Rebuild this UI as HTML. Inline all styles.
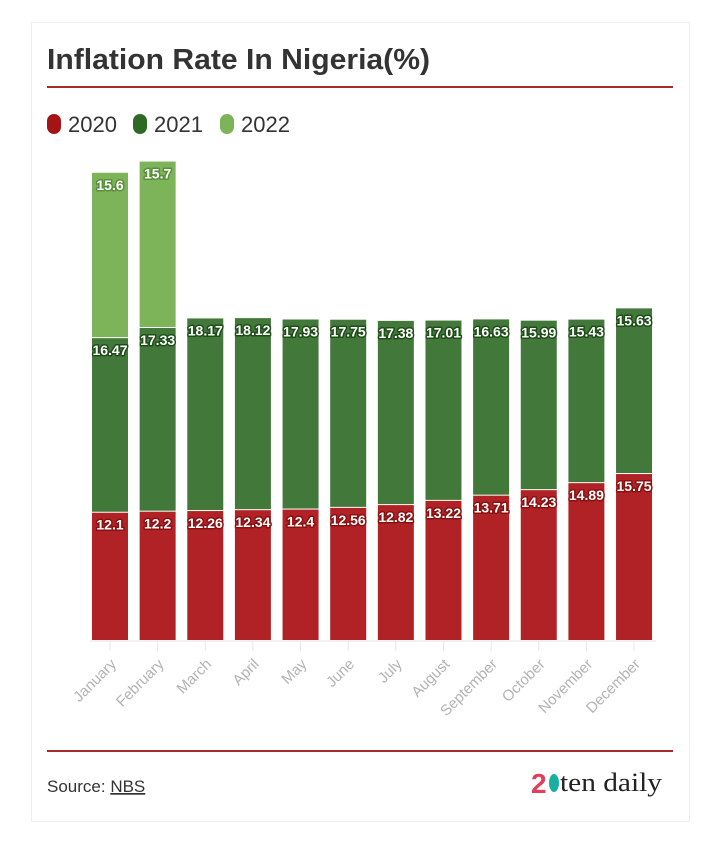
<!DOCTYPE html>
<html><head><meta charset="utf-8"><style>
body{margin:0;background:#fff;font-family:"Liberation Sans",sans-serif;}
#card{position:absolute;left:31px;top:22px;width:657px;height:798px;border:1px solid #eee;background:#fff;}
</style></head><body>
<div id="card"></div>
<svg id="chart" width="720" height="841" style="position:absolute;left:0;top:0">
<text x="47" y="69" font-size="29" font-weight="bold" fill="#333" textLength="383" lengthAdjust="spacingAndGlyphs">Inflation Rate In Nigeria(%)</text>
<rect x="47" y="86" width="626" height="2" fill="#a52a2a"/>
<g>
<g><rect x="47" y="114" width="14" height="20" rx="7" fill="#a51414"/><text x="68" y="132" font-size="22" fill="#333">2020</text></g>
<g><rect x="133" y="114" width="14" height="20" rx="7" fill="#2d6b25"/><text x="154" y="132" font-size="22" fill="#333">2021</text></g>
<g><rect x="220" y="114" width="14" height="20" rx="7" fill="#7db45a"/><text x="241" y="132" font-size="22" fill="#333">2022</text></g>
</g>
<g id="bars"></g>
<line x1="90" x2="656" y1="641" y2="641" stroke="#e6e6e6" stroke-width="1"/>
<rect x="47" y="750" width="626" height="2" fill="#a52a2a"/>
<text x="47" y="792" font-size="17" fill="#333">Source: <tspan text-decoration="underline">NBS</tspan></text>
<g>
<text x="531" y="793" font-size="28" font-weight="bold" fill="#e0405a">2</text>
<ellipse cx="554" cy="783" rx="5" ry="9" fill="#1ab0a0"/>
<text x="560" y="791" font-size="26" fill="#222" font-family="Liberation Serif, serif" textLength="102" lengthAdjust="spacingAndGlyphs">ten daily</text>
</g>
</svg>
<script>
const months=["January","February","March","April","May","June","July","August","September","October","November","December"];
const v2020=[12.1,12.2,12.26,12.34,12.4,12.56,12.82,13.22,13.71,14.23,14.89,15.75];
const v2021=[16.47,17.33,18.17,18.12,17.93,17.75,17.38,17.01,16.63,15.99,15.43,15.63];
const v2022=[15.6,15.7,null,null,null,null,null,null,null,null,null,null];
const series=[{name:"2020",vals:v2020,fill:"#b02226",stroke:"#8a1010"},{name:"2021",vals:v2021,fill:"#43783b",stroke:"#1e4d18"},{name:"2022",vals:v2022,fill:"#7db45a",stroke:"#5a8f3a"}];
const base=641,scale=10.6,x0=110,step=47.64,bw=36;
const xs=i=>x0+i*step, ys=v=>v*scale;
const NS="http://www.w3.org/2000/svg";
const g=document.getElementById("bars");
months.forEach((m,i)=>{
  let top=base;
  series.forEach(s=>{
    const v=s.vals[i]; if(v==null) return;
    const h=ys(v); top-=h;
    const r=document.createElementNS(NS,"rect");
    r.setAttribute("x",xs(i)-bw/2);r.setAttribute("y",top);r.setAttribute("width",bw);r.setAttribute("height",h-1);
    r.setAttribute("fill",s.fill);
    
    
    g.appendChild(r);
    const t=document.createElementNS(NS,"text");
    t.setAttribute("x",xs(i));t.setAttribute("y",top+17);t.setAttribute("text-anchor","middle");
    t.setAttribute("font-size","14");t.setAttribute("font-weight","bold");t.setAttribute("fill","#fff");
    t.setAttribute("stroke",s.stroke);t.setAttribute("stroke-width","3");t.setAttribute("paint-order","stroke");t.setAttribute("stroke-linejoin","round");
    t.textContent=v;
    
    
    g.appendChild(t);
  });
  const tk=document.createElementNS(NS,"line");
  tk.setAttribute("x1",xs(i));tk.setAttribute("x2",xs(i));tk.setAttribute("y1",base);tk.setAttribute("y2",base+10);tk.setAttribute("stroke","#e6e6e6");
  
  
  g.appendChild(tk);
  const l=document.createElementNS(NS,"text");
  const lx=xs(i)+7,ly=base+24;
  l.setAttribute("x",lx);l.setAttribute("y",ly);l.setAttribute("text-anchor","end");
  l.setAttribute("font-size","15");l.setAttribute("fill","#b3b3b3");
  l.setAttribute("transform","rotate(-45 "+lx+" "+ly+")");
  l.textContent=m;
  
  
  g.appendChild(l);
});
</script>
</body></html>
